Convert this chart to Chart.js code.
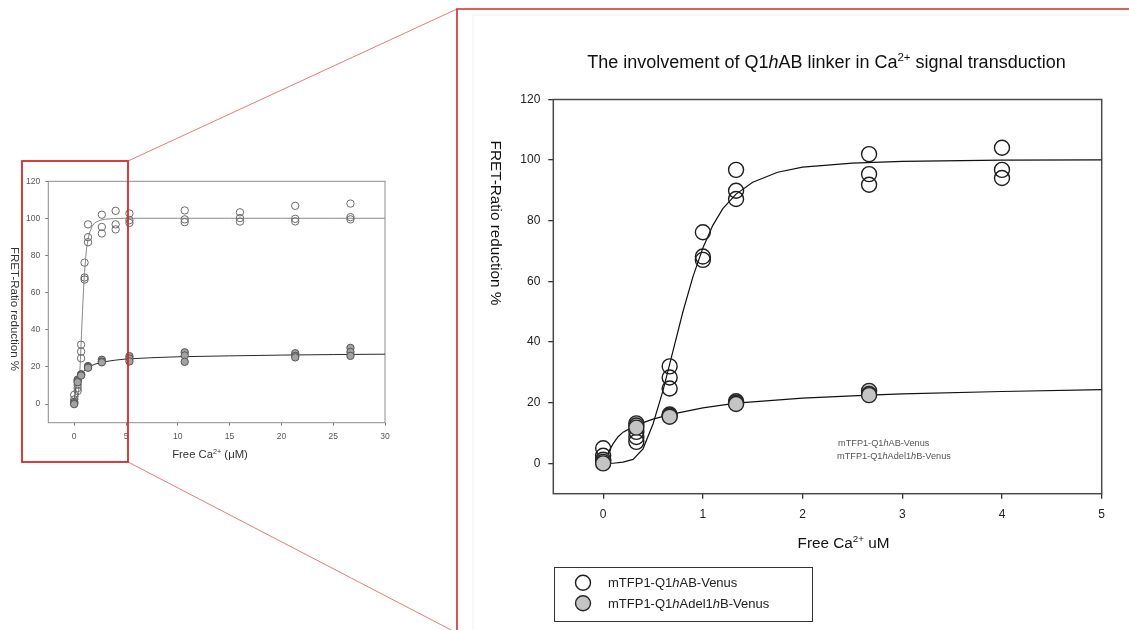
<!DOCTYPE html>
<html>
<head>
<meta charset="utf-8">
<script src="https://cdn.jsdelivr.net/npm/chart.js@4.4.1/dist/chart.umd.min.js"></script>
<style>
  html, body { margin: 0; padding: 0; background: #fff; }
  #wrap { position: relative; width: 1129px; height: 630px; overflow: hidden; background: #fff; }
  #wrap canvas, #wrap svg { position: absolute; left: 0; top: 0; }
</style>
</head>
<body>
<div id="wrap">
  <canvas id="overview" width="1129" height="630"></canvas>
  <canvas id="detail" width="1129" height="630"></canvas>
  <svg id="zoomFrame" width="1129" height="630" style="pointer-events:none">
    <rect x="473" y="15" width="700" height="700" fill="none" stroke="#f1f1f1" stroke-width="1"/>
    <line x1="128" y1="161" x2="457" y2="9" stroke="#e87a7a" stroke-width="1"/>
    <line x1="128" y1="462" x2="455" y2="632" stroke="#e87a7a" stroke-width="1"/>
    <rect x="22" y="161" width="106" height="301" fill="none" stroke="#d42a2a" stroke-width="1.8"/>
    <polyline points="457,632 457,9 1131,9" fill="none" stroke="#cf2b2b" stroke-width="1.6"/>
  </svg>
</div>
<script>
// ---- Free Ca2+ concentrations (uM) and replicate FRET-ratio reductions (%) ----
const freeCa = [0, 0.333, 0.667, 1, 1.333, 2.667, 4, 5.333, 10.667, 16, 21.333, 26.667];

// mTFP1-Q1hAB-Venus, three replicates per concentration
const abRep1 = [5, 10.4, 32, 76.2, 96.8, 102, 104.1, 102.7, 104.3, 103.3, 106.8, 108];
const abRep2 = [2.5, 8.7, 28.3, 68.2, 89.9, 95.4, 96.8, 99.1, 99.5, 100.2, 99.8, 100.7];
const abRep3 = [1, 7.1, 24.7, 67.1, 87.2, 91.9, 94.1, 97.6, 98, 98.3, 98.4, 99.5];

// mTFP1-Q1hAdel1hB-Venus (not measured at 1, 4 and 16 uM)
const delRep1 = [1.2, 13.2, 16.1, null, 20.5, 23.9, null, 25.8, 27.9, null, 27.4, 30.3];
const delRep2 = [0.5, 12.5, 15.8, null, 20, 22.9, null, 24.5, 26.2, null, 26, 28.1];
const delRep3 = [0, 11.8, 15.4, null, 19.6, 22.5, null, 23, 22.8, null, 25.2, 26];

// fitted binding curves
const fitAbX = [0, 0.1, 0.2, 0.3, 0.4, 0.5, 0.6, 0.7, 0.8, 0.9, 1.0, 1.1, 1.2, 1.333, 1.5, 1.75, 2, 2.5, 3, 4, 5, 7.5, 10, 15, 20, 25, 30];
const fitAbY = [0, 0.05, 0.4, 1.3, 4.8, 13, 24, 37, 50, 61.5, 71, 78.5, 84, 88.8, 92.7, 96, 97.7, 99, 99.6, 100, 100.1, 100.1, 100.1, 100.1, 100.1, 100.1, 100.1];
const fitDelX = [0, 0.05, 0.1, 0.15, 0.2, 0.333, 0.5, 0.667, 1, 1.333, 2, 2.667, 3, 4, 5, 7.5, 10, 15, 20, 25, 30];
const fitDelY = [0.3, 3.5, 6.5, 8.8, 10.3, 12.6, 14.6, 16.1, 18.3, 19.9, 21.5, 22.5, 22.9, 23.7, 24.3, 25, 25.5, 26, 26.4, 26.7, 26.9];

// axis ticks
const overviewXTicks = [0, 5, 10, 15, 20, 25, 30];
const detailXTicks = [0, 1, 2, 3, 4, 5];
const yTicks = [0, 20, 40, 60, 80, 100, 120];

// labels (*...* = italic, ^...^ = superscript)
const seriesNames = ['mTFP1-Q1*h*AB-Venus', 'mTFP1-Q1*h*Adel1*h*B-Venus'];
const chartTitle = 'The involvement of Q1*h*AB linker in Ca^2+^ signal transduction';
const yTitle = 'FRET-Ratio reduction %';
const detailXTitle = 'Free Ca^2+^ uM';
const overviewXTitle = 'Free Ca^2+^ (\u03bcM)';

const FAMILY = '"Liberation Sans", Arial, Helvetica, sans-serif';

function points(xs, ys) {
  const out = [];
  xs.forEach((x, i) => { if (ys[i] !== null && ys[i] !== undefined) out.push({ x, y: ys[i] }); });
  return out;
}
const abPoints = [abRep1, abRep2, abRep3].flatMap(r => points(freeCa, r));
const delPoints = [delRep1, delRep2, delRep3].flatMap(r => points(freeCa, r));

// ---- rich text helpers ----
function parseRich(s) {
  const out = [];
  const re = /(\*[^*]+\*|\^[^^]+\^|[^*^]+)/g;
  let m;
  while ((m = re.exec(s))) {
    const t = m[0];
    if (t[0] === '*') out.push({ t: t.slice(1, -1), it: true });
    else if (t[0] === '^') out.push({ t: t.slice(1, -1), sup: true });
    else out.push({ t });
  }
  return out;
}
function segFont(seg, size) {
  const sz = seg.sup ? size * 0.64 : size;
  return (seg.it ? 'italic ' : '') + sz.toFixed(2) + 'px ' + FAMILY;
}
function drawRich(ctx, s, x, y, size, o) {
  o = o || {};
  const parts = parseRich(s);
  ctx.save();
  ctx.translate(x, y);
  if (o.rotate) ctx.rotate(o.rotate);
  ctx.textBaseline = 'alphabetic';
  ctx.textAlign = 'left';
  let w = 0;
  parts.forEach(p => { ctx.font = segFont(p, size); p.w = ctx.measureText(p.t).width; w += p.w; });
  let cx = o.align === 'center' ? -w / 2 : (o.align === 'right' ? -w : 0);
  const base = size * 0.36; // places the cap-height centre on y
  ctx.fillStyle = o.color || '#111';
  parts.forEach(p => {
    ctx.font = segFont(p, size);
    ctx.fillText(p.t, cx, base - (p.sup ? size * 0.4 : 0));
    cx += p.w;
  });
  ctx.restore();
}

// ---- shared pieces ----
function scaleOpts(min, max, ticks, o) {
  return {
    type: 'linear', min, max,
    afterBuildTicks: s => { s.ticks = ticks.map(v => ({ value: v })); },
    afterFit: s => { if (s.isHorizontal()) s.height = o.fit; else s.width = o.fit; },
    grid: { display: true, drawOnChartArea: false, drawTicks: true, tickLength: o.tickLen, color: o.color, lineWidth: o.lw },
    border: { display: false },
    ticks: { color: o.labelColor, font: { family: FAMILY, size: o.fontSize }, padding: o.pad, autoSkip: false, maxRotation: 0, callback: v => String(v) }
  };
}
const framePlugin = {
  id: 'frame',
  beforeDatasetsDraw(chart, args, opts) {
    const a = chart.chartArea, ctx = chart.ctx;
    ctx.save();
    ctx.strokeStyle = opts.color;
    ctx.lineWidth = opts.width;
    ctx.strokeRect(a.left, a.top, a.right - a.left, a.bottom - a.top);
    ctx.restore();
  }
};

// ---- overview: full 0-30 uM range ----
new Chart(document.getElementById('overview'), {
  type: 'scatter',
  data: {
    datasets: [
      { type: 'scatter', data: delPoints, pointRadius: 3.7, pointBackgroundColor: '#a3a3a3', pointBorderColor: '#555', pointBorderWidth: 1, order: 1 },
      { type: 'scatter', data: abPoints, pointRadius: 3.7, pointBackgroundColor: 'rgba(255,255,255,0)', pointBorderColor: '#6a6a6a', pointBorderWidth: 1, order: 2 },
      { type: 'line', data: points(fitDelX, fitDelY), borderColor: '#2a2a2a', borderWidth: 1, pointRadius: 0, tension: 0, order: 3 },
      { type: 'line', data: points(fitAbX, fitAbY), borderColor: '#8a8a8a', borderWidth: 1, pointRadius: 0, tension: 0, order: 4 }
    ]
  },
  options: {
    responsive: false, animation: false, devicePixelRatio: 1,
    layout: { padding: { left: 18.3, top: 181.3, right: 744, bottom: 182.3 } },
    plugins: {
      legend: { display: false }, tooltip: { enabled: false },
      frame: { color: '#8c8c8c', width: 1 }
    },
    scales: {
      x: scaleOpts(-2.5, 30, overviewXTicks, { fit: 25, tickLen: 3, color: '#777', lw: 1, labelColor: '#555', fontSize: 8.5, pad: 6 }),
      y: scaleOpts(-10, 120, yTicks, { fit: 30, tickLen: 3, color: '#777', lw: 1, labelColor: '#555', fontSize: 8.5, pad: 5 })
    }
  },
  plugins: [framePlugin, {
    id: 'overviewText',
    afterDraw(chart) {
      const ctx = chart.ctx;
      drawRich(ctx, yTitle, 15, 309, 11.5, { align: 'center', rotate: Math.PI / 2, color: '#333' });
      drawRich(ctx, overviewXTitle, 210, 454, 11.3, { align: 'center', color: '#333' });
    }
  }]
});

// ---- detail: 0-5 uM ----
new Chart(document.getElementById('detail'), {
  type: 'scatter',
  data: {
    datasets: [
      { label: seriesNames[1], type: 'scatter', data: delPoints, pointRadius: 7.5, pointBackgroundColor: '#c4c4c4', pointBorderColor: '#262626', pointBorderWidth: 1.4, order: 1 },
      { label: seriesNames[0], type: 'scatter', data: abPoints, pointRadius: 7.5, pointBackgroundColor: 'rgba(255,255,255,0)', pointBorderColor: '#1e1e1e', pointBorderWidth: 1.4, order: 2 },
      { type: 'line', data: points(fitDelX, fitDelY), borderColor: '#111', borderWidth: 1.2, pointRadius: 0, tension: 0, order: 3 },
      { type: 'line', data: points(fitAbX, fitAbY), borderColor: '#111', borderWidth: 1.2, pointRadius: 0, tension: 0, order: 4 }
    ]
  },
  options: {
    responsive: false, animation: false, devicePixelRatio: 1,
    layout: { padding: { left: 513.3, top: 99.5, right: 27.3, bottom: 101.3 } },
    plugins: {
      legend: { display: false }, tooltip: { enabled: false },
      frame: { color: '#4a4a4a', width: 1.5 }
    },
    scales: {
      x: scaleOpts(-0.5, 5, detailXTicks, { fit: 35, tickLen: 5, color: '#333', lw: 1.3, labelColor: '#222', fontSize: 12, pad: 9 }),
      y: scaleOpts(-10, 120, yTicks, { fit: 40, tickLen: 5, color: '#333', lw: 1.3, labelColor: '#222', fontSize: 12, pad: 8 })
    }
  },
  plugins: [framePlugin, {
    id: 'detailText',
    afterDraw(chart) {
      const ctx = chart.ctx;
      drawRich(ctx, chartTitle, 826.5, 62, 18, { align: 'center', color: '#111' });
      drawRich(ctx, yTitle, 497, 223, 15.3, { align: 'center', rotate: Math.PI / 2, color: '#111' });
      drawRich(ctx, detailXTitle, 843.5, 542.5, 15.3, { align: 'center', color: '#111' });

      // small in-plot labels
      drawRich(ctx, seriesNames[0], 838, 442.5, 9.2, { color: '#555' });
      drawRich(ctx, seriesNames[1], 837, 456, 9.2, { color: '#555' });

      // legend box
      ctx.save();
      ctx.strokeStyle = '#333';
      ctx.lineWidth = 1;
      ctx.strokeRect(554.5, 567.5, 258, 54);
      ctx.restore();
      const order = [1, 0]; // dataset index of each legend row
      order.forEach((di, row) => {
        const ds = chart.data.datasets[di];
        const cy = 582.7 + row * 20.6;
        ctx.save();
        ctx.beginPath();
        ctx.arc(583, cy, 7.5, 0, Math.PI * 2);
        ctx.fillStyle = ds.pointBackgroundColor;
        ctx.fill();
        ctx.lineWidth = ds.pointBorderWidth;
        ctx.strokeStyle = ds.pointBorderColor;
        ctx.stroke();
        ctx.restore();
        drawRich(ctx, ds.label, 608, cy, 13, { color: '#222' });
      });
    }
  }]
});
</script>
</body>
</html>
